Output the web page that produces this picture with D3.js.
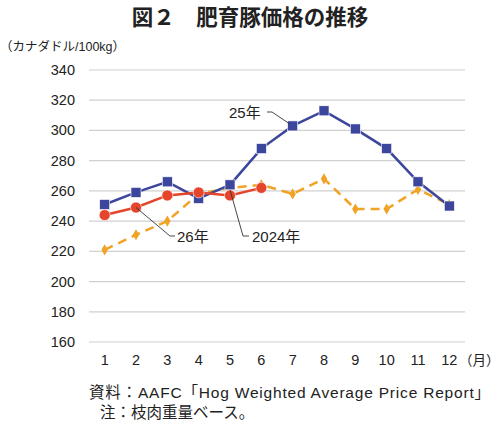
<!DOCTYPE html>
<html>
<head>
<meta charset="utf-8">
<script src="https://cdn.jsdelivr.net/npm/d3@7"></script>
<style>
  body { margin: 0; background: #fff; }
  text { font-family: "Liberation Sans", "Noto Sans CJK JP", sans-serif; fill: #222; }
</style>
</head>
<body>
<svg id="chart" width="500" height="422"></svg>
<script>
// データ
var months = ['1', '2', '3', '4', '5', '6', '7', '8', '9', '10', '11', '12'];
var yTicks = [160, 180, 200, 220, 240, 260, 280, 300, 320, 340];
var y2024 = [221, 231, 240, 258, 262, 264, 258, 268, 248, 248, 261, 251];
var y2025 = [251, 259, 266, 255, 264, 288, 303, 313, 301, 288, 266, 250];
var y2026 = [244, 249, 257, 259, 257, 262];

var svg = d3.select('#chart');

var x = d3.scaleBand().domain(months).range([89, 465]);
var y = d3.scaleLinear().domain([160, 340]).range([342, 70]);
var cx = function (i) { return x(months[i]) + x.bandwidth() / 2; };

// タイトル
svg.append('text')
    .attr('x', 250).attr('y', 25)
    .attr('text-anchor', 'middle')
    .style('font-family', '"Noto Sans CJK JP"')
    .style('font-size', '21.5px').style('font-weight', 'bold')
    .text('図２　肥育豚価格の推移');

svg.append('text')
    .attr('x', 0).attr('y', 51)
    .style('font-size', '12.5px')
    .text('（カナダドル/100kg）');

// グリッド
svg.append('g')
    .selectAll('line')
    .data(yTicks)
    .enter().append('line')
    .attr('x1', 89).attr('x2', 465)
    .attr('y1', d => y(d)).attr('y2', d => y(d))
    .attr('stroke', '#d0d0d0').attr('stroke-width', 1.2);

svg.append('g')
    .selectAll('text')
    .data(yTicks)
    .enter().append('text')
    .attr('x', 75).attr('y', d => y(d) + 5)
    .attr('text-anchor', 'end')
    .style('font-size', '14.5px')
    .text(d => d);

svg.append('g')
    .selectAll('text')
    .data(months)
    .enter().append('text')
    .attr('x', d => x(d) + x.bandwidth() / 2).attr('y', 365)
    .attr('text-anchor', 'middle')
    .style('font-size', '14.5px')
    .text(d => d);

svg.append('text')
    .attr('x', 459).attr('y', 365)
    .style('font-family', '"Noto Sans CJK JP"')
    .style('font-size', '13.5px')
    .text('（月）');

var line = d3.line()
    .x((d, i) => cx(i))
    .y(d => y(d));

// 2024年（破線）
svg.append('path')
    .datum(y2024)
    .attr('d', line)
    .attr('fill', 'none')
    .attr('stroke', '#f0a324').attr('stroke-width', 2.5)
    .attr('stroke-dasharray', '9,6');

svg.append('g')
    .selectAll('path')
    .data(y2024)
    .enter().append('path')
    .attr('d', d3.symbol().type(d3.symbolDiamond).size(36))
    .attr('transform', (d, i) => `translate(${cx(i)},${y(d)})`)
    .attr('fill', '#f0a324');

// 25年
svg.append('path')
    .datum(y2025)
    .attr('d', line)
    .attr('fill', 'none')
    .attr('stroke', '#3c469c').attr('stroke-width', 2.5);

svg.append('g')
    .selectAll('rect')
    .data(y2025)
    .enter().append('rect')
    .attr('x', (d, i) => cx(i) - 5).attr('y', d => y(d) - 5)
    .attr('width', 10).attr('height', 10)
    .attr('fill', '#3c469c')
    .attr('stroke', '#fff').attr('stroke-width', 0.6);

// 26年
svg.append('path')
    .datum(y2026)
    .attr('d', line)
    .attr('fill', 'none')
    .attr('stroke', '#e5452b').attr('stroke-width', 2.5);

svg.append('g')
    .selectAll('circle')
    .data(y2026)
    .enter().append('circle')
    .attr('cx', (d, i) => cx(i)).attr('cy', d => y(d))
    .attr('r', 5.5)
    .attr('fill', '#e5452b')
    .attr('stroke', '#fff').attr('stroke-width', 0.6);

// 引き出し線とラベル
function callout(pts, label, tx, ty) {
    svg.append('polyline')
        .attr('points', pts.map(p => p.join(',')).join(' '))
        .attr('fill', 'none')
        .attr('stroke', '#333').attr('stroke-width', 0.9);
    svg.append('text')
        .attr('x', tx).attr('y', ty)
        .style('font-size', '15px')
        .text(label);
}
callout([[267, 112], [272, 112], [cx(6) - 3, y(y2025[6]) - 2]], '25年', 229, 118);
callout([[cx(1), y(y2026[1])], [170, 236], [175, 236]], '26年', 177, 242);
callout([[cx(4), y(y2025[4]) + 5], [243, 236], [249, 236]], '2024年', 252, 242);

// 出典
svg.append('text')
    .attr('x', 89).attr('y', 398)
    .attr('textLength', 401).attr('lengthAdjust', 'spacing')
    .style('font-size', '15.5px')
    .text('資料：AAFC「Hog Weighted Average Price Report」');
svg.append('text')
    .attr('x', 100).attr('y', 418)
    .style('font-size', '15.5px')
    .text('注：枝肉重量ベース。');
</script>
</body>
</html>
